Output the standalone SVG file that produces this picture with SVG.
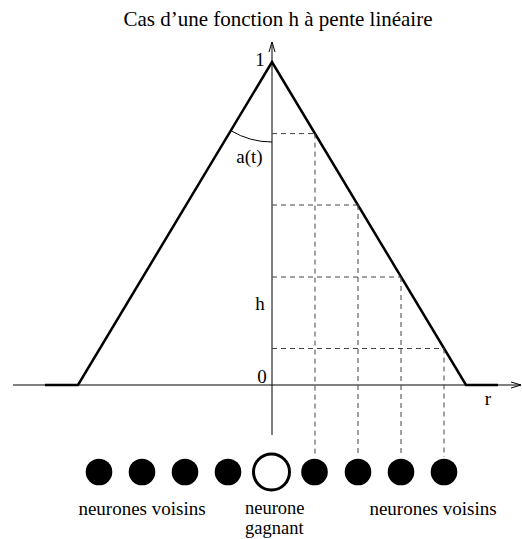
<svg xmlns="http://www.w3.org/2000/svg" width="522" height="539" viewBox="0 0 522 539">
<style>
text{font-family:"Liberation Serif","Times New Roman",serif;font-size:19px;fill:#000}
.title{font-size:21px}
.two{font-size:18.5px}
.axis{stroke:#000;stroke-width:1;fill:none}
.curve{stroke:#000;stroke-width:2.5;fill:none;stroke-linejoin:miter}
.dash{stroke:#444;stroke-width:1;stroke-dasharray:5,4;fill:none}
.full{fill:#000}
</style>
<defs>
<marker id="arr" viewBox="0 0 10 8" refX="10" refY="4" markerWidth="10" markerHeight="8" markerUnits="userSpaceOnUse" orient="auto">
<path d="M0,1 L10,4 L0,7" fill="none" stroke="#000" stroke-width="1"/>
</marker>
</defs>
<rect width="522" height="539" fill="#fff"/>
<text class="title" x="278" y="25.5" text-anchor="middle">Cas d’une fonction h à pente linéaire</text>
<g id="connectors">
<line class="axis" x1="13" y1="385" x2="521" y2="385" marker-end="url(#arr)"/>
<line class="axis" x1="272" y1="435" x2="272" y2="42" marker-end="url(#arr)"/>
<polyline class="curve" points="45,385 78,385 272,62 466,385 498,385"/>
<path class="axis" d="M230.8,130.6 A80,80 0 0 0 272,142"/>
<path class="dash" d="M272,133.6 H315 M272,205 H358 M272,277 H401 M272,348.5 H444"/>
<path class="dash" d="M315,133.6 V457 M358,205 V457 M401,277 V457 M444,348.5 V457"/>
</g>
<g id="labels">
<text x="260" y="66" text-anchor="middle">1</text>
<text x="249.5" y="163" text-anchor="middle">a(t)</text>
<text x="260" y="310" text-anchor="middle">h</text>
<text x="262" y="383" text-anchor="middle">0</text>
<text x="488" y="405" text-anchor="middle">r</text>
</g>
<g id="neurons">
<circle class="full" cx="99" cy="472" r="13.3"/>
<circle class="full" cx="142" cy="472" r="13.3"/>
<circle class="full" cx="185" cy="472" r="13.3"/>
<circle class="full" cx="228" cy="472" r="13.3"/>
<circle cx="271.5" cy="472" r="18" fill="#fff" stroke="#000" stroke-width="3"/>
<circle class="full" cx="314.5" cy="472" r="13.3"/>
<circle class="full" cx="358" cy="472" r="13.3"/>
<circle class="full" cx="401" cy="472" r="13.3"/>
<circle class="full" cx="444" cy="472" r="13.3"/>
</g>
<g id="captions">
<text x="142" y="515" text-anchor="middle">neurones voisins</text>
<text class="two" x="245" y="514">neurone</text>
<text class="two" x="245" y="534">gagnant</text>
<text x="433" y="515" text-anchor="middle">neurones voisins</text>
</g>
</svg>
